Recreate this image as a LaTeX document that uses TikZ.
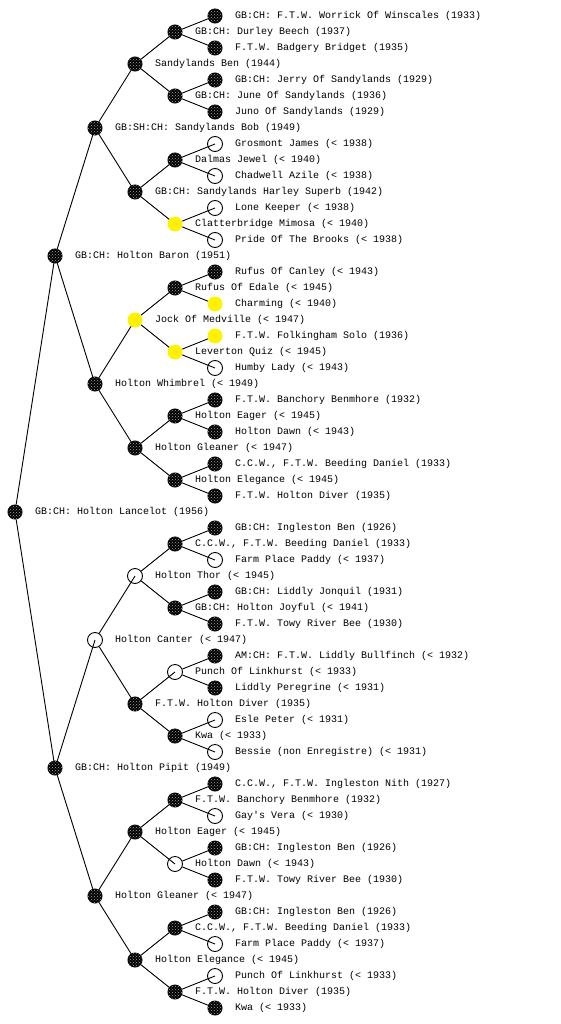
\documentclass[tikz,border=0pt]{standalone}
\usepackage{fontspec}
\newfontfamily\monofam{Liberation Mono}
\usetikzlibrary{backgrounds,patterns}
\begin{document}
\begin{tikzpicture}[x=1pt,y=-1pt,
  blk/.style={circle, fill=black, draw=black, line width=1pt, minimum size=14pt, inner sep=0pt,
    postaction={pattern=crosshatch dots, pattern color=black!35}},
  opn/.style={circle, draw=black, line width=0.9pt, minimum size=15pt, inner sep=0pt},
  ylw/.style={circle, fill=yellow, minimum size=15pt, inner sep=0pt},
  lab/.style={anchor=west, inner sep=0pt, font=\monofam\fontsize{10}{12}\selectfont},
  edge/.style={line width=0.9pt, draw=black}]
\useasboundingbox (0,0) rectangle (560,1024);
% level x: L0=15 L1=55 L2=95 L3=135 L4=175 L5=215 ; y = 16*row
\node[blk] (n1) at (215,16) {};   \node[lab] (t1) at (235,16) {GB:CH: F.T.W. Worrick Of Winscales (1933)};
\node[blk] (n2) at (175,32) {};   \node[lab] (t2) at (195,32) {GB:CH: Durley Beech (1937)};
\node[blk] (n3) at (215,48) {};   \node[lab] (t3) at (235,48) {F.T.W. Badgery Bridget (1935)};
\node[blk] (n4) at (135,64) {};   \node[lab] (t4) at (155,64) {Sandylands Ben (1944)};
\node[blk] (n5) at (215,80) {};   \node[lab] (t5) at (235,80) {GB:CH: Jerry Of Sandylands (1929)};
\node[blk] (n6) at (175,96) {};   \node[lab] (t6) at (195,96) {GB:CH: June Of Sandylands (1936)};
\node[blk] (n7) at (215,112) {};  \node[lab] (t7) at (235,112) {Juno Of Sandylands (1929)};
\node[blk] (n8) at (95,128) {};   \node[lab] (t8) at (115,128) {GB:SH:CH: Sandylands Bob (1949)};
\node[opn] (n9) at (215,144) {};  \node[lab] (t9) at (235,144) {Grosmont James (< 1938)};
\node[blk] (n10) at (175,160) {}; \node[lab] (t10) at (195,160) {Dalmas Jewel (< 1940)};
\node[opn] (n11) at (215,176) {}; \node[lab] (t11) at (235,176) {Chadwell Azile (< 1938)};
\node[blk] (n12) at (135,192) {}; \node[lab] (t12) at (155,192) {GB:CH: Sandylands Harley Superb (1942)};
\node[opn] (n13) at (215,208) {}; \node[lab] (t13) at (235,208) {Lone Keeper (< 1938)};
\node[ylw] (n14) at (175,224) {}; \node[lab] (t14) at (195,224) {Clatterbridge Mimosa (< 1940)};
\node[opn] (n15) at (215,240) {}; \node[lab] (t15) at (235,240) {Pride Of The Brooks (< 1938)};
\node[blk] (n16) at (55,256) {};  \node[lab] (t16) at (75,256) {GB:CH: Holton Baron (1951)};
\node[blk] (n17) at (215,272) {}; \node[lab] (t17) at (235,272) {Rufus Of Canley (< 1943)};
\node[blk] (n18) at (175,288) {}; \node[lab] (t18) at (195,288) {Rufus Of Edale (< 1945)};
\node[ylw] (n19) at (215,304) {}; \node[lab] (t19) at (235,304) {Charming (< 1940)};
\node[ylw] (n20) at (135,320) {}; \node[lab] (t20) at (155,320) {Jock Of Medville (< 1947)};
\node[ylw] (n21) at (215,336) {}; \node[lab] (t21) at (235,336) {F.T.W. Folkingham Solo (1936)};
\node[ylw] (n22) at (175,352) {}; \node[lab] (t22) at (195,352) {Leverton Quiz (< 1945)};
\node[opn] (n23) at (215,368) {}; \node[lab] (t23) at (235,368) {Humby Lady (< 1943)};
\node[blk] (n24) at (95,384) {};  \node[lab] (t24) at (115,384) {Holton Whimbrel (< 1949)};
\node[blk] (n25) at (215,400) {}; \node[lab] (t25) at (235,400) {F.T.W. Banchory Benmhore (1932)};
\node[blk] (n26) at (175,416) {}; \node[lab] (t26) at (195,416) {Holton Eager (< 1945)};
\node[blk] (n27) at (215,432) {}; \node[lab] (t27) at (235,432) {Holton Dawn (< 1943)};
\node[blk] (n28) at (135,448) {}; \node[lab] (t28) at (155,448) {Holton Gleaner (< 1947)};
\node[blk] (n29) at (215,464) {}; \node[lab] (t29) at (235,464) {C.C.W., F.T.W. Beeding Daniel (1933)};
\node[blk] (n30) at (175,480) {}; \node[lab] (t30) at (195,480) {Holton Elegance (< 1945)};
\node[blk] (n31) at (215,496) {}; \node[lab] (t31) at (235,496) {F.T.W. Holton Diver (1935)};
\node[blk] (n32) at (15,512) {};  \node[lab] (t32) at (35,512) {GB:CH: Holton Lancelot (1956)};
\node[blk] (n33) at (215,528) {}; \node[lab] (t33) at (235,528) {GB:CH: Ingleston Ben (1926)};
\node[blk] (n34) at (175,544) {}; \node[lab] (t34) at (195,544) {C.C.W., F.T.W. Beeding Daniel (1933)};
\node[opn] (n35) at (215,560) {}; \node[lab] (t35) at (235,560) {Farm Place Paddy (< 1937)};
\node[opn] (n36) at (135,576) {}; \node[lab] (t36) at (155,576) {Holton Thor (< 1945)};
\node[blk] (n37) at (215,592) {}; \node[lab] (t37) at (235,592) {GB:CH: Liddly Jonquil (1931)};
\node[blk] (n38) at (175,608) {}; \node[lab] (t38) at (195,608) {GB:CH: Holton Joyful (< 1941)};
\node[blk] (n39) at (215,624) {}; \node[lab] (t39) at (235,624) {F.T.W. Towy River Bee (1930)};
\node[opn] (n40) at (95,640) {};  \node[lab] (t40) at (115,640) {Holton Canter (< 1947)};
\node[blk] (n41) at (215,656) {}; \node[lab] (t41) at (235,656) {AM:CH: F.T.W. Liddly Bullfinch (< 1932)};
\node[opn] (n42) at (175,672) {}; \node[lab] (t42) at (195,672) {Punch Of Linkhurst (< 1933)};
\node[blk] (n43) at (215,688) {}; \node[lab] (t43) at (235,688) {Liddly Peregrine (< 1931)};
\node[blk] (n44) at (135,704) {}; \node[lab] (t44) at (155,704) {F.T.W. Holton Diver (1935)};
\node[opn] (n45) at (215,720) {}; \node[lab] (t45) at (235,720) {Esle Peter (< 1931)};
\node[blk] (n46) at (175,736) {}; \node[lab] (t46) at (195,736) {Kwa (< 1933)};
\node[opn] (n47) at (215,752) {}; \node[lab] (t47) at (235,752) {Bessie (non Enregistre) (< 1931)};
\node[blk] (n48) at (55,768) {};  \node[lab] (t48) at (75,768) {GB:CH: Holton Pipit (1949)};
\node[blk] (n49) at (215,784) {}; \node[lab] (t49) at (235,784) {C.C.W., F.T.W. Ingleston Nith (1927)};
\node[blk] (n50) at (175,800) {}; \node[lab] (t50) at (195,800) {F.T.W. Banchory Benmhore (1932)};
\node[opn] (n51) at (215,816) {}; \node[lab] (t51) at (235,816) {Gay's Vera (< 1930)};
\node[blk] (n52) at (135,832) {}; \node[lab] (t52) at (155,832) {Holton Eager (< 1945)};
\node[blk] (n53) at (215,848) {}; \node[lab] (t53) at (235,848) {GB:CH: Ingleston Ben (1926)};
\node[opn] (n54) at (175,864) {}; \node[lab] (t54) at (195,864) {Holton Dawn (< 1943)};
\node[blk] (n55) at (215,880) {}; \node[lab] (t55) at (235,880) {F.T.W. Towy River Bee (1930)};
\node[blk] (n56) at (95,896) {};  \node[lab] (t56) at (115,896) {Holton Gleaner (< 1947)};
\node[blk] (n57) at (215,912) {}; \node[lab] (t57) at (235,912) {GB:CH: Ingleston Ben (1926)};
\node[blk] (n58) at (175,928) {}; \node[lab] (t58) at (195,928) {C.C.W., F.T.W. Beeding Daniel (1933)};
\node[opn] (n59) at (215,944) {}; \node[lab] (t59) at (235,944) {Farm Place Paddy (< 1937)};
\node[blk] (n60) at (135,960) {}; \node[lab] (t60) at (155,960) {Holton Elegance (< 1945)};
\node[opn] (n61) at (215,976) {}; \node[lab] (t61) at (235,976) {Punch Of Linkhurst (< 1933)};
\node[blk] (n62) at (175,992) {}; \node[lab] (t62) at (195,992) {F.T.W. Holton Diver (1935)};
\node[blk] (n63) at (215,1008) {};\node[lab] (t63) at (235,1008) {Kwa (< 1933)};
\begin{pgfonlayer}{background}
\foreach \p/\d in {32/16, 16/8, 48/8, 8/4, 24/4, 40/4, 56/4,
  4/2, 12/2, 20/2, 28/2, 36/2, 44/2, 52/2, 60/2,
  2/1, 6/1, 10/1, 14/1, 18/1, 22/1, 26/1, 30/1, 34/1, 38/1, 42/1, 46/1, 50/1, 54/1, 58/1, 62/1}{
  \pgfmathtruncatemacro\ca{\p-\d}
  \pgfmathtruncatemacro\cb{\p+\d}
  \draw[edge] (n\p) -- (n\ca.center);
  \draw[edge] (n\p) -- (n\cb.center);
}
\end{pgfonlayer}
\end{tikzpicture}
\end{document}
